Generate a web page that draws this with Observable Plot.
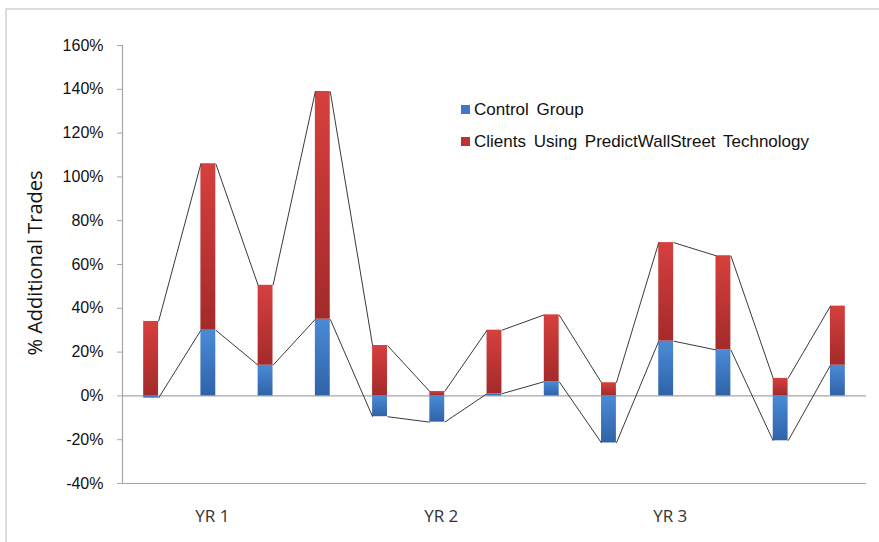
<!DOCTYPE html>
<html>
<head>
<meta charset="utf-8">
<script src="https://cdn.jsdelivr.net/npm/d3@7"></script>
<script src="https://cdn.jsdelivr.net/npm/@observablehq/plot@0.6"></script>
<style>
  html, body { margin: 0; padding: 0; background: #fff; }
  #wrap { position: relative; width: 879px; height: 542px; overflow: hidden; }
  #frame { position: absolute; left: 5px; top: 8px; width: 900px; height: 600px;
           border-top: 2px solid #dcdcdc; border-left: 2px solid #dcdcdc; box-sizing: border-box; }
  #chart { position: absolute; left: 0; top: 0; }
  .legend { position: absolute; left: 461px; font-family: "Liberation Sans", Arial, sans-serif;
            font-size: 17px; color: #111; line-height: 17px; white-space: nowrap; word-spacing: 3px; }
  .legend .sw { display: inline-block; width: 9px; height: 9px; margin-right: 4px; vertical-align: 1px; }
  #ylab { position: absolute; left: 34px; top: 263px; transform: translate(-50%, -50%) rotate(-90deg);
          font-family: "Open Sans", sans-serif; font-size: 20px; color: #111; white-space: nowrap; }
</style>
</head>
<body>
<div id="wrap">
  <div id="frame"></div>
  <div id="chart"></div>
  <div id="ylab">% Additional Trades</div>
  <div class="legend" style="top:101px"><span class="sw" style="background:#3b78c6"></span>Control Group</div>
  <div class="legend" style="top:133px"><span class="sw" style="background:#c03232"></span>Clients Using PredictWallStreet Technology</div>
</div>
<script>
// Data (percent)
const control = [-1, 30, 14, 35, -9.5, -12, 1, 6.5, -21.5, 25, 21, -20.5, 14];
const clients = [34, 106, 50.5, 139, 23, 2, 30, 37, 6, 70, 64, 8, 41];
const yearLabels = ["YR 1", "YR 2", "YR 3"];
const yearPositions = [2, 6, 10];
const yTicks = [-40, -20, 0, 20, 40, 60, 80, 100, 120, 140, 160];

const hw = 0.13; // half bar width in category units
const rows = control.map((c, i) => ({ i: i + 1, control: c, clients: clients[i] }));
const links = rows.slice(0, -1).map((r, k) => ({
  x1: r.i + hw, x2: rows[k + 1].i - hw,
  c1: r.control, c2: rows[k + 1].control,
  p1: r.clients, p2: rows[k + 1].clients
}));

const plot = Plot.plot({
  width: 879,
  height: 542,
  marginLeft: 122,
  marginRight: 13,
  marginTop: 45,
  marginBottom: 59,
  x: { type: "linear", domain: [0.5, 13.5] },
  y: { type: "linear", domain: [-40, 160] },
  style: { background: "transparent", overflow: "visible" },
  marks: [
    Plot.ruleY([0, -40], { stroke: "#a6a6a6", strokeWidth: 1.2 }),
    Plot.ruleX([0.5], { y1: -40, y2: 160, stroke: "#a6a6a6", strokeWidth: 1.2 }),
    Plot.axisY({ ticks: yTicks, tickSize: 5, tickPadding: 14, tickFormat: d => d + "%",
      stroke: "#a6a6a6", fill: "#111",
      fontSize: 16, fontFamily: "Liberation Sans, Arial, sans-serif", label: null }),
    Plot.axisX({ ticks: yearPositions, tickSize: 0, tickPadding: 26, dx: 4,
      tickFormat: d => yearLabels[yearPositions.indexOf(d)],
      fontSize: 17, fontFamily: "Open Sans, sans-serif", fill: "#333", label: null }),
    Plot.rectY(rows, { x1: d => d.i - hw, x2: d => d.i + hw, y1: 0, y2: "control",
      fill: "url(#blueGrad)", ariaLabel: "controlbars" }),
    Plot.rectY(rows, { x1: d => d.i - hw, x2: d => d.i + hw, y1: d => Math.max(0, d.control), y2: "clients",
      fill: "url(#redGrad)", ariaLabel: "clientbars" }),
    Plot.link(links, { x1: "x1", x2: "x2", y1: "c1", y2: "c2", stroke: "#3a3a3a", strokeWidth: 1 }),
    Plot.link(links, { x1: "x1", x2: "x2", y1: "p1", y2: "p2", stroke: "#3a3a3a", strokeWidth: 1 })
  ]
});

const svg = d3.select(plot);
const defs = svg.insert("defs", ":first-child");
function grad(id, top, bottom) {
  const g = defs.append("linearGradient").attr("id", id).attr("x1", 0).attr("y1", 0).attr("x2", 0).attr("y2", 1);
  g.append("stop").attr("offset", "0%").attr("stop-color", top);
  g.append("stop").attr("offset", "100%").attr("stop-color", bottom);
}
grad("redGrad", "#d6403e", "#a42a2a");
grad("blueGrad", "#4a8bd6", "#2f63a8");
const f = defs.append("filter").attr("id", "shadow").attr("x", "-50%").attr("y", "-20%").attr("width", "200%").attr("height", "140%");
f.append("feDropShadow").attr("dx", 0).attr("dy", 2).attr("stdDeviation", 1.5).attr("flood-color", "#000").attr("flood-opacity", 0.25);
svg.selectAll('g[aria-label="controlbars"], g[aria-label="clientbars"]').attr("filter", "url(#shadow)");

document.getElementById("chart").appendChild(plot);
</script>
</body>
</html>
